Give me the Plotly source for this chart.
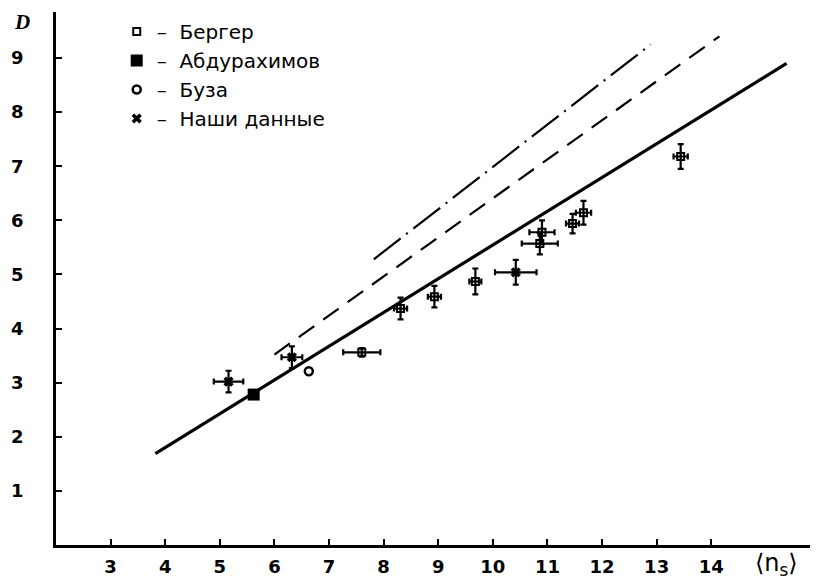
import plotly.graph_objects as go

# ---- data ----
berger_x = [7.60, 8.31, 8.93, 9.68, 10.90, 10.86, 11.46, 11.66, 13.44]
berger_y = [3.56, 4.37, 4.59, 4.87, 5.78, 5.57, 5.94, 6.14, 7.18]
berger_xerr = [0.34, 0.12, 0.12, 0.11, 0.23, 0.33, 0.12, 0.14, 0.13]
berger_yerr = [0.08, 0.20, 0.20, 0.24, 0.22, 0.20, 0.18, 0.22, 0.23]

abdu_x = [5.62]
abdu_y = [2.78]

buza_x = [6.63]
buza_y = [3.21]

ours_x = [5.16, 6.32, 10.42]
ours_y = [3.02, 3.47, 5.04]
ours_xerr = [0.27, 0.19, 0.38]
ours_yerr = [0.20, 0.20, 0.23]

solid_x = [3.82, 15.38]
solid_y = [1.69, 8.90]
dashed_x = [6.00, 14.15]
dashed_y = [3.52, 9.40]
dashdot_x = [7.82, 12.89]
dashdot_y = [5.28, 9.25]

x_ticks = list(range(3, 15))
y_ticks = list(range(1, 10))

FONT = "DejaVu Sans"
BLACK = "#000000"

fig = go.Figure()

fig.add_trace(go.Scatter(x=solid_x, y=solid_y, mode="lines",
                         line=dict(color=BLACK, width=3.2), showlegend=False))
fig.add_trace(go.Scatter(x=dashed_x, y=dashed_y, mode="lines",
                         line=dict(color=BLACK, width=2.2, dash="19px,11px"), showlegend=False))
fig.add_trace(go.Scatter(x=dashdot_x, y=dashdot_y, mode="lines",
                         line=dict(color=BLACK, width=2.2, dash="34px,7px,2px,7px"), showlegend=False))

eb = dict(type="data", color=BLACK, thickness=2.2, width=3)

fig.add_trace(go.Scatter(
    x=berger_x, y=berger_y, mode="markers", name="–  Бергер",
    marker=dict(symbol="square-open", size=7, color=BLACK, line=dict(width=2)),
    error_x=dict(array=berger_xerr, **eb), error_y=dict(array=berger_yerr, **eb)))
fig.add_trace(go.Scatter(
    x=abdu_x, y=abdu_y, mode="markers", name="–  Абдурахимов",
    marker=dict(symbol="square", size=12, color=BLACK)))
fig.add_trace(go.Scatter(
    x=buza_x, y=buza_y, mode="markers", name="–  Буза",
    marker=dict(symbol="circle-open", size=8, color=BLACK, line=dict(width=2.5))))
fig.add_trace(go.Scatter(
    x=ours_x, y=ours_y, mode="markers", name="–  Наши данные",
    marker=dict(symbol="x", size=9, color=BLACK, line=dict(width=0)),
    error_x=dict(array=ours_xerr, **eb), error_y=dict(array=ours_yerr, **eb)))

axis_common = dict(showgrid=False, zeroline=False, showline=True, linecolor=BLACK,
                   linewidth=2.5, ticks="inside", ticklen=6, tickwidth=1.5,
                   tickcolor=BLACK, tickfont=dict(family=FONT, size=18, color=BLACK))

# the page body has an 8px margin, so the figure is sized to fit the window
fig.update_layout(
    width=810, height=575,
    margin=dict(l=48, r=3, t=4, b=38),
    paper_bgcolor="white", plot_bgcolor="white",
    font=dict(family=FONT, color=BLACK),
    xaxis=dict(range=[2, 15.9], tickvals=x_ticks,
               ticktext=[f"<b>{v}</b>" for v in x_ticks],
               ticklabelstandoff=4, **axis_common),
    yaxis=dict(range=[0, 9.85], tickvals=y_ticks,
               ticktext=[f"<b>{v}</b>" for v in y_ticks],
               ticklabelstandoff=26, **axis_common),
    legend=dict(x=0.08, y=1.0, xanchor="left", yanchor="top",
                font=dict(family=FONT, size=20, color=BLACK),
                bgcolor="rgba(0,0,0,0)", tracegroupgap=0, itemwidth=30),
    annotations=[
        dict(text="<b><i>D</i></b>", xref="paper", yref="paper", x=-0.045, y=1.0,
             xanchor="center", yanchor="top", yshift=4, showarrow=False,
             font=dict(family="Liberation Serif", size=21, color=BLACK)),
        dict(text="⟨n<sub>s</sub>⟩", xref="x", yref="paper", x=15.2, y=0,
             xanchor="center", yanchor="top", yshift=-2, showarrow=False,
             font=dict(family=FONT, size=24, color=BLACK)),
    ],
)

fig.write_html("out.html")
